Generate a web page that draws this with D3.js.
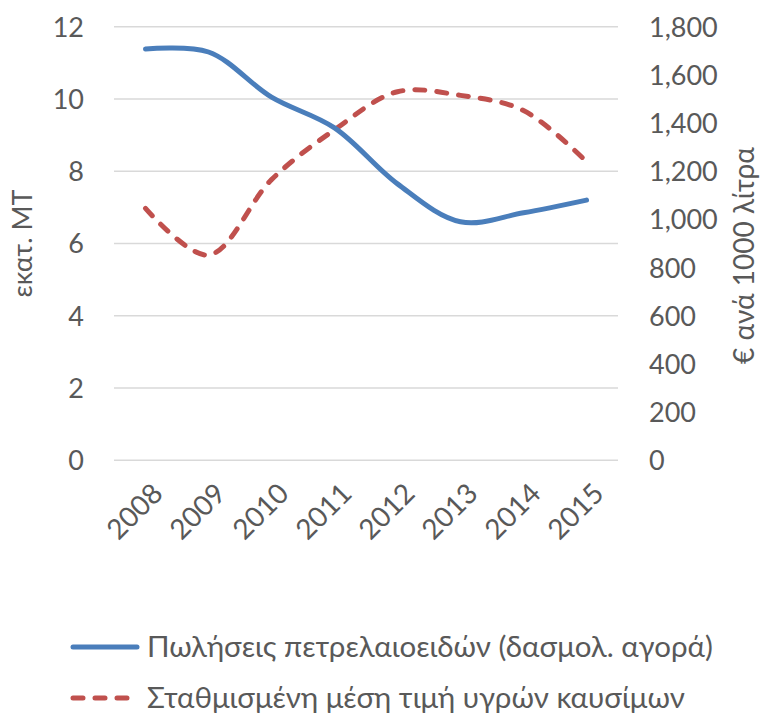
<!DOCTYPE html>
<html>
<head>
<meta charset="utf-8">
<script src="https://cdn.jsdelivr.net/npm/d3@7"></script>
<style>
  body { margin: 0; background: #fff; }
  text { font-family: Lato, "Open Sans", sans-serif; fill: #595959; }
</style>
</head>
<body>
<svg id="chart" width="765" height="715"></svg>
<script>
// data
const years = ["2008", "2009", "2010", "2011", "2012", "2013", "2014", "2015"];
const sales = [11.38, 11.3, 10.05, 9.2, 7.65, 6.6, 6.85, 7.2];       // εκατ. ΜΤ
const price = [1046, 852, 1165, 1372, 1530, 1515, 1452, 1240];      // € ανά 1000 λίτρα
const leftTicks = [0, 2, 4, 6, 8, 10, 12];
const rightTicks = [0, 200, 400, 600, 800, 1000, 1200, 1400, 1600, 1800];
const seriesNames = ["Πωλήσεις πετρελαιοειδών (δασμολ. αγορά)", "Σταθμισμένη μέση τιμή υγρών καυσίμων"];

const svg = d3.select("#chart");
const plotL = 114, plotR = 618, plotT = 26.7, plotB = 460.3;

const x = d3.scaleBand().domain(years).range([plotL, plotR]);
const yL = d3.scaleLinear().domain([0, 12]).range([plotB, plotT]);
const yR = d3.scaleLinear().domain([0, 1800]).range([plotB, plotT]);

// gridlines
svg.append("g")
  .selectAll("line")
  .data(leftTicks)
  .join("line")
    .attr("x1", plotL).attr("x2", plotR)
    .attr("y1", d => yL(d)).attr("y2", d => yL(d))
    .attr("stroke", "#d9d9d9")
    .attr("stroke-width", 1.5);

// left axis
const axL = svg.append("g")
  .attr("transform", `translate(${plotL},0)`)
  .call(d3.axisLeft(yL).tickValues(leftTicks).tickSize(0).tickPadding(30));
axL.select(".domain").remove();
axL.selectAll("text").style("font-size", "27px").attr("dy", "0.35em");

// right axis
const axR = svg.append("g")
  .attr("transform", `translate(${plotR},0)`)
  .call(d3.axisRight(yR).tickValues(rightTicks).tickSize(0).tickPadding(31).tickFormat(d3.format(",")));
axR.select(".domain").remove();
axR.selectAll("text").style("font-size", "27px").attr("dy", "0.35em");

// x labels, rotated
svg.append("g")
  .selectAll("text")
  .data(years)
  .join("text")
    .attr("transform", d => `translate(${x(d) + x.bandwidth() / 2 + 12},${plotB + 28}) rotate(-45)`)
    .attr("text-anchor", "end")
    .attr("dy", "0.35em")
    .style("font-size", "28px")
    .text(d => d);

// axis titles
svg.append("text")
  .attr("transform", `translate(32,${(plotT + plotB) / 2}) rotate(-90)`)
  .attr("text-anchor", "middle")
  .style("font-size", "27px")
  .text("εκατ. ΜΤ");

svg.append("text")
  .attr("transform", `translate(754,${(plotT + plotB) / 2 + 12}) rotate(-90)`)
  .attr("text-anchor", "middle")
  .style("font-size", "28px")
  .text("€ ανά 1000 λίτρα");

// lines
const cx = d => x(d) + x.bandwidth() / 2;

const lineL = d3.line()
  .x((d, i) => cx(years[i]))
  .y(d => yL(d))
  .curve(d3.curveCatmullRom.alpha(0.5));

const lineR = d3.line()
  .x((d, i) => cx(years[i]))
  .y(d => yR(d))
  .curve(d3.curveCatmullRom.alpha(0.5));

svg.append("path")
  .datum(price)
  .attr("d", lineR)
  .attr("fill", "none")
  .attr("stroke", "#c0504d")
  .attr("stroke-width", 5)
  .attr("stroke-dasharray", "10,12")
  .attr("stroke-linecap", "round");

svg.append("path")
  .datum(sales)
  .attr("d", lineL)
  .attr("fill", "none")
  .attr("stroke", "#4a7ebb")
  .attr("stroke-width", 5)
  .attr("stroke-linecap", "round");

// legend
const legend = svg.append("g")
  .selectAll("g")
  .data(seriesNames)
  .join("g")
    .attr("transform", (d, i) => `translate(0,${647 + i * 51})`);

legend.append("line")
  .attr("x1", 73).attr("x2", 137)
  .attr("y1", 0).attr("y2", 0)
  .attr("stroke", (d, i) => i === 0 ? "#4a7ebb" : "#c0504d")
  .attr("stroke-width", 5)
  .attr("stroke-linecap", "round")
  .attr("stroke-dasharray", (d, i) => i === 0 ? null : "10,12");

legend.append("text")
  .attr("x", 147)
  .attr("dy", "0.35em")
  .style("font-size", "29.5px")
  .text(d => d);
</script>
</body>
</html>
